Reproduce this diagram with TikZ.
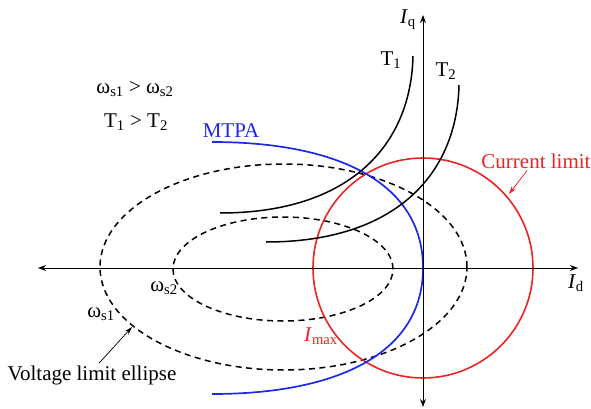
\documentclass[tikz,border=0pt]{standalone}
\usepackage{fontspec}
\setmainfont{Liberation Serif}
\usetikzlibrary{arrows.meta}
\definecolor{cred}{RGB}{235,35,35}
\definecolor{cblue}{RGB}{30,40,235}
\newcommand{\ssub}[1]{\textsubscript{#1}}
\begin{document}
\begin{tikzpicture}[x=1pt,y=-1pt,
  font=\fontsize{21}{25}\selectfont,
  lbl/.style={inner sep=1pt, anchor=center},
  axisline/.style={line width=0.8pt, {Stealth[length=8pt,width=6pt]}-{Stealth[length=8pt,width=6pt]}},
  vdash/.style={line width=1.5pt, dash pattern=on 6pt off 4.5pt},
  tcurve/.style={line width=1.5pt},
  climit/.style={line width=1.6pt, draw=cred},
  mtpa/.style={line width=1.7pt, draw=cblue},
  pointer/.style={line width=0.7pt, -{Stealth[length=8pt,width=5pt]}}]
\useasboundingbox (0,0) rectangle (591,409);

% voltage limit ellipses
\draw[vdash] (283.5,267) ellipse [x radius=183.5pt, y radius=103pt];
\draw[vdash] (283,269) ellipse [x radius=110pt, y radius=52pt];

% current limit circle
\draw[climit] (423,268) circle [radius=110pt];

% MTPA
\draw[mtpa] (212,142) .. controls (340,142) and (423,184) .. (423,268)
  .. controls (423,352) and (340,394) .. (212,394);

% torque curves
\draw[tcurve] (220,213) .. controls (350,213) and (411,145) .. (413,56);
\draw[tcurve] (266,242) .. controls (396,242) and (457,174) .. (459,85);

% axes
\coordinate (xl) at (38,268);
\coordinate (xr) at (578,268);
\coordinate (yt) at (423,15);
\coordinate (yb) at (423,407);
\draw[axisline] (xl) -- (xr);
\draw[axisline] (yb) -- (yt);

% labels
\node[lbl] (iq) at (408,20) {\textit{I}\ssub{q}};
\node[lbl] (id) at (576,283) {\textit{I}\ssub{d}};
\node[lbl] (t1) at (391,60) {T\ssub{1}};
\node[lbl] (t2) at (446,71) {T\ssub{2}};
\node[lbl] (cond1) at (135,89) {ω\ssub{s1} > ω\ssub{s2}};
\node[lbl] (cond2) at (136,122) {T\ssub{1} > T\ssub{2}};
\node[lbl, text=cblue] (mtpalbl) at (231,131) {MTPA};
\node[lbl, text=cred, inner sep=2pt] (cl) at (536,161) {Current limit};
\node[lbl, text=cred] (imax) at (321,336) {\textit{I}\ssub{max}};
\node[lbl] (ws2) at (164,288) {ω\ssub{s2}};
\node[lbl] (ws1) at (101,314) {ω\ssub{s1}};
\node[lbl, inner sep=2pt] (vle) at (92,375) {Voltage limit ellipse};

% pointers
\coordinate (vt) at (132,327);
\coordinate (ct) at (509,194);
\draw[pointer] ([xshift=7pt]vle.north) -- (vt);
\draw[pointer, draw=cred, fill=cred] ([xshift=-9pt]cl.south) -- (ct);
\end{tikzpicture}
\end{document}
